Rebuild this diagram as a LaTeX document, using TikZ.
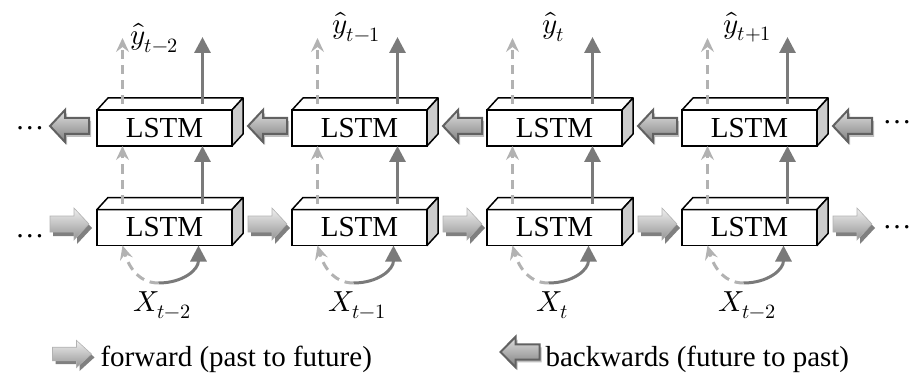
\documentclass[tikz,border=0pt]{standalone}
\usepackage{fontspec}
\usepackage{unicode-math}
\setmainfont{Liberation Serif}
\setmathfont{Latin Modern Math}
\usetikzlibrary{calc,arrows.meta}
\begin{document}
\begin{tikzpicture}[x=1pt,y=-1pt,font=\fontsize{29}{34}\selectfont]
	\tikzset{lstm/.style = {draw,line width=1.5pt,fill=white,minimum width=135pt,minimum height=36pt,inner sep=0pt,outer sep=0pt}}
	\tikzset{face/.style = {draw,line width=1.5pt,line join=round}}
	\tikzset{light/.style = {draw=black!30,line width=3pt,dash pattern=on 9pt off 6pt,-{Stealth[length=14pt,width=13pt,inset=5pt]}}}
	\tikzset{dark/.style = {draw=black!52,line width=3pt,-{Triangle[length=16pt,width=16pt]}}}
	\tikzset{pics/fwdarrow/.style = {code={
		\fill[black!50,shift={(3,4)}] (-19.5,-8) -- (4.5,-8) -- (4.5,-16) -- (19.5,0) -- (4.5,16) -- (4.5,8) -- (-19.5,8) -- cycle;
		\shade[top color=black!6,bottom color=black!42,draw=black!30,line width=.6pt] (-19.5,-8) -- (4.5,-8) -- (4.5,-16) -- (19.5,0) -- (4.5,16) -- (4.5,8) -- (-19.5,8) -- cycle;
	}}}
	\tikzset{pics/bwdarrow/.style = {code={
		\fill[black!25,shift={(2,3)}] (19.5,-8) -- (-4.5,-8) -- (-4.5,-16) -- (-19.5,0) -- (-4.5,16) -- (-4.5,8) -- (19.5,8) -- cycle;
		\shade[top color=black!12,bottom color=black!50,draw=black!62,line width=2pt] (19.5,-8) -- (-4.5,-8) -- (-4.5,-16) -- (-19.5,0) -- (-4.5,16) -- (-4.5,8) -- (19.5,8) -- cycle;
	}}}
	\useasboundingbox (0,0) rectangle (913,377);
	% the two rows of cells
	\foreach \i in {1,...,4} {
		\pgfmathsetmacro\cx{164.5+195*(\i-1)}
		\node[lstm] (b\i) at (\cx,128) {LSTM};
		\node[lstm] (f\i) at (\cx,227.5) {LSTM};
	}
	\foreach \r in {b,f} {
		\foreach \i in {1,...,4} {
			\draw[face,fill=white] (\r\i.north west) -- ++(11,-12) -- ($(\r\i.north east)+(11,-12)$) -- (\r\i.north east) -- cycle;
			\draw[face,fill=black!20] (\r\i.north east) -- ++(11,-12) -- ($(\r\i.south east)+(11,-12)$) -- (\r\i.south east) -- cycle;
		}
	}
	% inputs and outputs
	\foreach \i/\lab/\dx/\dy in {1/{t-2}/-10/38,2/{t-1}/-3/27,3/t/-1/27,4/{t+1}/-2/27} {
		\pgfmathsetmacro\cx{164.5+195*(\i-1)}
		\node[inner sep=0pt] (y\i) at (\cx+\dx,\dy) {$\hat{y}_{\lab}$};
	}
	\foreach \i/\lab in {1/{t-2},2/{t-1},3/t,4/{t-2}} {
		\pgfmathsetmacro\cx{164.5+195*(\i-1)}
		\node[inner sep=0pt] (x\i) at (\cx-2,305) {$X_{\lab}$};
		\coordinate (s\i) at (\cx-6,283);
		\draw[light] (s\i) .. controls (\cx-28,283) and (\cx-37,263) .. ($(f\i.south)+(-42,0)$);
		\draw[dark] (s\i) .. controls (\cx+18,283) and (\cx+34,270) .. ($(f\i.south)+(34,0)$);
		\draw[light] ($(f\i.north)+(-42,-6)$) -- ($(b\i.south)+(-42,0)$);
		\draw[dark] ($(f\i.north)+(38,-6)$) -- ($(b\i.south)+(38,0)$);
		\draw[light] ($(b\i.north)+(-42,-6)$) -- ++(0,-66);
		\draw[dark] ($(b\i.north)+(38,-6)$) -- ++(0,-67);
	}
	% block arrows between the cells
	\foreach \i/\j in {1/2,2/3,3/4} {
		\pic at ($(b\i.east)!.5!(b\j.west)+(5.5,-2)$) {bwdarrow};
		\pic at ($(f\i.east)!.5!(f\j.west)+(5.5,-3.5)$) {fwdarrow};
	}
	\pic at ($(b1.west)+(-27.5,-2)$) {bwdarrow};
	\pic at ($(f1.west)+(-27.5,-3.5)$) {fwdarrow};
	\pic at ($(b4.east)+(35.5,-2)$) {bwdarrow};
	\pic at ($(f4.east)+(35.5,-3.5)$) {fwdarrow};
	\node (ldots1) at ($(b1.west)+(-67,0)$) {\dots};
	\node (ldots2) at ($(f1.west)+(-67,8.5)$) {\dots};
	\node (rdots1) at ($(b4.east)+(80,-6)$) {\dots};
	\node (rdots2) at ($(f4.east)+(80,0)$) {\dots};
	% legend
	\pic[yscale=.85] at (72,354) {fwdarrow};
	\node[anchor=base west] (fwdlab) at (97,366) {forward (past to future)};
	\pic[yscale=.95] at (520,352) {bwdarrow};
	\node[anchor=base west] (bwdlab) at (542,366) {backwards (future to past)};
\end{tikzpicture}
\end{document}
